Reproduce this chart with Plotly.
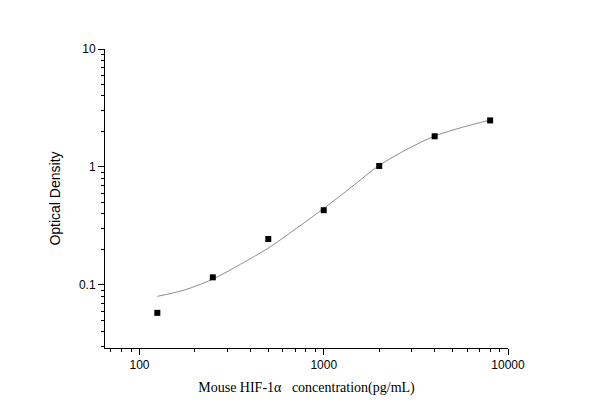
import numpy as np
import plotly.graph_objects as go

# measured standards
conc = [125, 250, 500, 1000, 2000, 4000, 8000]
od = [0.058, 0.116, 0.245, 0.43, 1.02, 1.82, 2.48]

# fitted curve
curve_x = [125, 177, 250, 354, 500, 707, 1000, 1414, 2000, 2828, 4000, 5657, 8000]
curve_y = [0.080, 0.091, 0.112, 0.150, 0.205, 0.30, 0.445, 0.675, 1.03, 1.41, 1.83, 2.17, 2.5]

x_ticks = [100, 1000, 10000]
y_ticks = [0.1, 1, 10]
x_minor = [70, 80, 90] + [k * 100 for k in range(2, 10)] + [k * 1000 for k in range(2, 10)]
y_minor = [k / 100 for k in range(3, 10)] + [k / 10 for k in range(2, 10)] + list(range(2, 10))

fig = go.Figure()
fig.add_trace(go.Scatter(
    x=curve_x, y=curve_y, mode='lines',
    line=dict(color='#8c8c8c', width=1, shape='spline', smoothing=0.8),
    showlegend=False, hoverinfo='skip'
))
fig.add_trace(go.Scatter(
    x=conc, y=od, mode='markers',
    marker=dict(symbol='square', size=6, color='black'),
    showlegend=False
))

axis_common = dict(
    type='log', showgrid=False, zeroline=False,
    showline=True, linecolor='black', linewidth=1,
    ticks='outside', ticklen=6, tickcolor='black', tickwidth=1,
    tickfont=dict(family='Liberation Sans', size=12, color='black'),
)

fig.update_xaxes(
    range=[np.log10(65), 4], tickmode='array', tickvals=x_ticks,
    ticktext=[str(v) for v in x_ticks],
    minor=dict(tickmode='array', tickvals=x_minor, ticks='outside', ticklen=3,
               tickcolor='black', showgrid=False),
    title=dict(text='Mouse HIF-1α   concentration(pg/mL)', standoff=10,
               font=dict(family='Liberation Serif', size=14, color='black')),
    **axis_common
)
fig.update_yaxes(
    range=[np.log10(0.0292), 1], tickmode='array', tickvals=y_ticks,
    ticktext=['0.1', '1', '10'],
    minor=dict(tickmode='array', tickvals=y_minor, ticks='outside', ticklen=3,
               tickcolor='black', showgrid=False),
    title=dict(text='Optical Density', standoff=15,
               font=dict(family='Liberation Sans', size=14, color='black')),
    **axis_common
)

fig.update_layout(
    width=590, height=417,
    plot_bgcolor='white', paper_bgcolor='white',
    margin=dict(l=97, r=90, t=41, b=77),
)

fig.write_html("out.html")
